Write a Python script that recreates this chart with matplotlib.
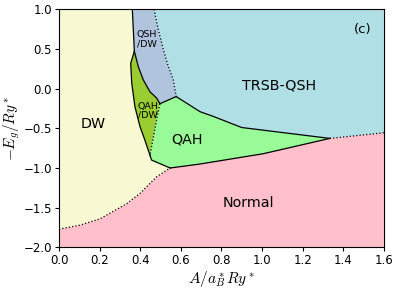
import matplotlib
matplotlib.use("Agg")
import matplotlib.pyplot as plt

plt.rcParams["mathtext.fontset"] = "cm"

# Phase boundaries (A, -Eg)
b_dw_qshdw = [(0.361, 1.0), (0.371, 0.47)]
b_dw_qahdw = [(0.371, 0.47), (0.353, 0.32), (0.358, 0.07), (0.374, -0.23),
              (0.399, -0.48), (0.423, -0.65), (0.448, -0.84)]
b_qshdw_qahdw = [(0.371, 0.47), (0.39, 0.28), (0.415, 0.11), (0.448, -0.04),
                 (0.481, -0.12), (0.497, -0.19)]
b_qshdw_qah = [(0.497, -0.19), (0.577, -0.10)]
b_qshdw_trsb = [(0.468, 1.0), (0.489, 0.74), (0.514, 0.49), (0.538, 0.28),
                (0.563, 0.11), (0.577, -0.10)]
b_qahdw_qah = [(0.497, -0.19), (0.481, -0.39), (0.448, -0.84)]
b_dw_qah = [(0.448, -0.84), (0.456, -0.90), (0.547, -1.0)]
b_qah_trsb = [(0.577, -0.10), (0.645, -0.21), (0.694, -0.29), (0.76, -0.35),
              (0.90, -0.49), (1.334, -0.627)]
b_qah_normal = [(0.547, -1.0), (0.694, -0.95), (1.006, -0.82), (1.334, -0.627)]
b_trsb_normal = [(1.334, -0.627), (1.6, -0.556)]
b_dw_normal = [(0.0, -1.77), (0.103, -1.72), (0.202, -1.64), (0.333, -1.45),
               (0.399, -1.32), (0.481, -1.11), (0.547, -1.0)]

xmin, xmax, ymin, ymax = 0.0, 1.6, -2.0, 1.0

def rev(p):
    return list(reversed(p))

regions = {
    "Normal": (b_dw_normal + b_qah_normal + b_trsb_normal + [(xmax, ymin), (xmin, ymin)], "#ffc0cb"),
    "DW": ([(xmin, ymax)] + b_dw_qshdw + b_dw_qahdw + b_dw_qah + rev(b_dw_normal), "#f8f8d2"),
    "QSH/DW": (b_dw_qshdw[:1] + b_qshdw_trsb + rev(b_qshdw_qah) + rev(b_qshdw_qahdw) + rev(b_dw_qshdw), "#b0c4de"),
    "QAH/DW": (b_qshdw_qahdw + b_qahdw_qah + rev(b_dw_qahdw), "#9acd32"),
    "QAH": (b_qshdw_qah + b_qah_trsb + rev(b_qah_normal) + rev(b_dw_qah) + rev(b_qahdw_qah), "#98fb98"),
    "TRSB": ([(0.468, ymax), (xmax, ymax), (xmax, -0.556)] + rev(b_trsb_normal) + rev(b_qah_trsb) + rev(b_qshdw_trsb), "#b0e0e6"),
}

fig = plt.figure(figsize=(3.99, 2.89), dpi=100)
ax = fig.add_axes([0.148, 0.144, 0.814, 0.824])

for name, (poly, col) in regions.items():
    xs = [p[0] for p in poly]
    ys = [p[1] for p in poly]
    ax.fill(xs, ys, color=col, lw=0)

solid = [b_dw_qshdw, b_dw_qahdw, b_qshdw_qahdw, b_qshdw_qah, b_dw_qah, b_qah_trsb, b_qah_normal]
dotted = [b_qshdw_trsb, b_qahdw_qah, b_trsb_normal, b_dw_normal]
for b in solid:
    ax.plot([p[0] for p in b], [p[1] for p in b], color="black", lw=0.9)
for b in dotted:
    ax.plot([p[0] for p in b], [p[1] for p in b], color="black", lw=0.9, ls=":")

ax.set_xlim(xmin, xmax)
ax.set_ylim(ymin, ymax)
ax.tick_params(labelsize=8.5, length=3, pad=2)
ax.set_xlabel(r"$A/a_B^*Ry^*$", fontsize=11, labelpad=1)
ax.set_ylabel(r"$-E_g/Ry^*$", fontsize=11, labelpad=1)

ax.text(0.167, -0.447, "DW", fontsize=10.3, ha="center", va="center")
ax.text(0.432, 0.62, "QSH\n/DW", fontsize=6.8, ha="center", va="center", linespacing=1.0)
ax.text(0.437, -0.28, "QAH\n/DW", fontsize=6.8, ha="center", va="center", linespacing=1.0)
ax.text(0.629, -0.64, "QAH", fontsize=10.3, ha="center", va="center")
ax.text(1.085, 0.045, "TRSB-QSH", fontsize=10.3, ha="center", va="center")
ax.text(0.932, -1.44, "Normal", fontsize=10.3, ha="center", va="center")
ax.text(1.498, 0.75, "(c)", fontsize=9.5, ha="center", va="center")

fig.savefig("out.png", dpi=100)
